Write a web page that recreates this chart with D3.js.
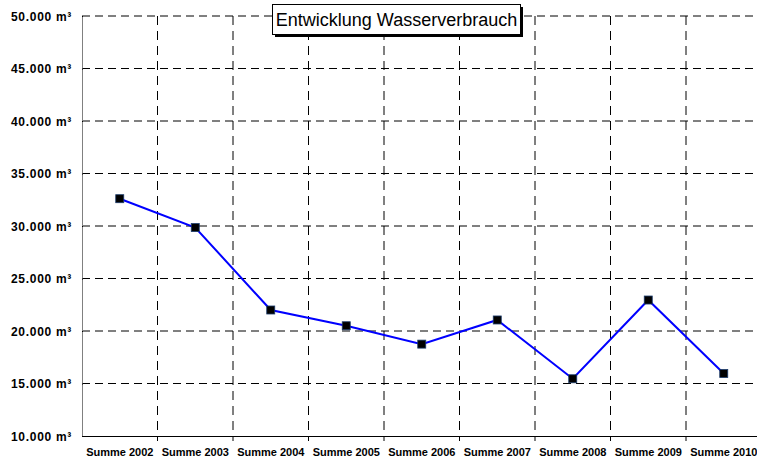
<!DOCTYPE html>
<html><head><meta charset="utf-8">
<script src="https://cdn.jsdelivr.net/npm/d3@7"></script>
<style>body{margin:0;background:#fff;overflow:hidden}svg{display:block}</style>
</head><body>
<svg id="c" width="757" height="461"></svg>
<script>
const categories = ["Summe 2002","Summe 2003","Summe 2004","Summe 2005","Summe 2006","Summe 2007","Summe 2008","Summe 2009","Summe 2010"];
const values = [32600, 29850, 22000, 20500, 18750, 21050, 15450, 22950, 15950];
const yTicks = [10000,15000,20000,25000,30000,35000,40000,45000,50000];
const title = "Entwicklung Wasserverbrauch";

const svg = d3.select("#c");
const x = d3.scaleBand().domain(categories).range([82, 761.5]);
const y = d3.scaleLinear().domain([10000, 50000]).range([436, 16]);
const fmt = v => d3.format(",")(v).replace(/,/g, ".") + " m³";

// horizontal grid
svg.append("g").selectAll("line").data(yTicks.slice(1)).join("line")
  .attr("x1", 82).attr("x2", 757)
  .attr("y1", d => y(d)).attr("y2", d => y(d))
  .attr("stroke", "#000").attr("stroke-dasharray", "8,5");
// vertical grid at category boundaries
svg.append("g").selectAll("line").data(categories.slice(1)).join("line")
  .attr("x1", d => x(d)).attr("x2", d => x(d))
  .attr("y1", y(50000)).attr("y2", y(10000))
  .attr("stroke", "#000").attr("stroke-dasharray", "9,6");

// y axis
const ya = svg.append("g").attr("transform", "translate(82,0)")
  .call(d3.axisLeft(y).tickValues(yTicks).tickFormat(fmt).tickSize(5).tickPadding(5));
ya.select(".domain").attr("stroke", "#808080").attr("d", `M0.5,${y(50000)}V${y(10000)}`);
ya.selectAll(".tick line").attr("stroke", "#000").attr("x2", 1);
ya.selectAll(".tick text").attr("font-family", "Liberation Sans, Arial, sans-serif")
  .attr("font-weight", "bold").attr("font-size", 12).attr("letter-spacing", "0.7px")
  .attr("fill", "#000").attr("dy", "0.36em");

// x axis
const xa = svg.append("g").attr("transform", "translate(0,436)")
  .call(d3.axisBottom(x).tickSize(0).tickPadding(12));
xa.select(".domain").attr("stroke", "#000").attr("d", "M82,0.5H757");
xa.selectAll(".tick text").attr("font-family", "Liberation Sans, Arial, sans-serif")
  .attr("font-weight", "bold").attr("font-size", 11).attr("fill", "#000");
svg.append("g").selectAll("line").data(categories.slice(1)).join("line")
  .attr("x1", d => x(d)).attr("x2", d => x(d))
  .attr("y1", 436).attr("y2", 441).attr("stroke", "#000");

// line
const cx = d => x(d) + x.bandwidth() / 2;
svg.append("path").datum(values)
  .attr("fill", "none").attr("stroke", "#0000ff").attr("stroke-width", 2)
  .attr("d", d3.line().x((d, i) => cx(categories[i])).y(d => y(d)));
svg.append("g").selectAll("rect").data(values).join("rect")
  .attr("x", (d, i) => cx(categories[i]) - 4).attr("y", d => y(d) - 4)
  .attr("width", 8).attr("height", 8)
  .attr("fill", "#000").attr("stroke", "#1a3a6a").attr("stroke-width", 0.8);

// title box
const tg = svg.append("g");
tg.append("rect").attr("x", 275).attr("y", 7).attr("width", 248).attr("height", 30).attr("fill", "#000");
tg.append("rect").attr("x", 272.5).attr("y", 4.5).attr("width", 248).attr("height", 30)
  .attr("fill", "#fff").attr("stroke", "#000");
tg.append("text").attr("x", 396.5).attr("y", 26).attr("text-anchor", "middle")
  .attr("font-family", "Liberation Sans, Arial, sans-serif").attr("font-size", 18)
  .attr("fill", "#000").text(title);
</script>
</body></html>
